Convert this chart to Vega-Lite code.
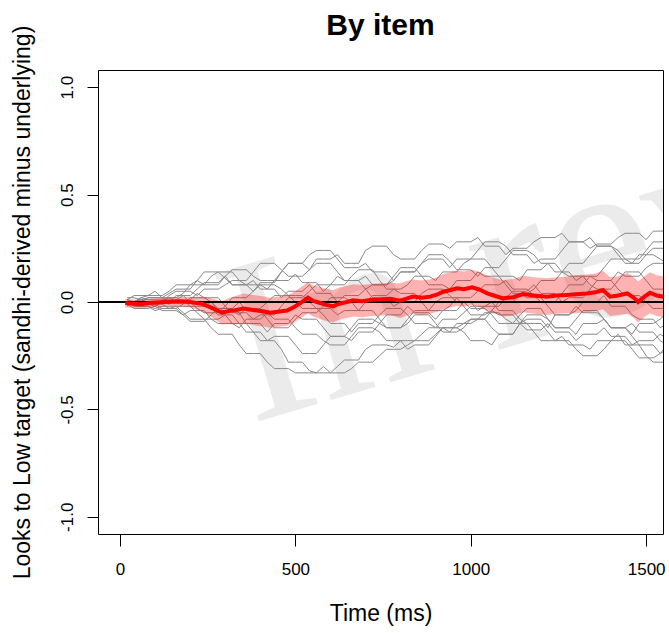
{
  "$schema": "https://vega.github.io/schema/vega-lite/v6.json",
  "width": 565,
  "height": 464,
  "autosize": {"type": "none"},
  "padding": {"left": 98, "top": 70, "right": 6, "bottom": 99},
  "background": "white",
  "title": {"text": "By item", "font": "Liberation Sans", "fontSize": 30, "fontWeight": "bold", "color": "black", "anchor": "middle", "frame": "group", "baseline": "alphabetic", "offset": -40},
  "config": {
    "view": {"stroke": "black", "strokeWidth": 1},
    "axis": {"domain": false, "grid": false, "tickColor": "black", "tickWidth": 1, "labelFont": "Liberation Sans", "labelFontSize": 17, "labelColor": "black", "titleFont": "Liberation Sans", "titleFontSize": 23, "titleFontWeight": "normal", "titleColor": "black"}
  },
  "datasets": {
    "items": [
      {"t":20,"a":0,"b":0,"c":0,"d":0.01,"e":0,"f":-0.01,"g":0,"h":0,"i":0.02,"j":-0.02,"k":0,"l":0.01,"m":-0.01,"n":0},
      {"t":60,"a":0.02,"b":-0.02,"c":0,"d":0.03,"e":-0.01,"f":-0.03,"g":0.01,"h":-0.01,"i":0.01,"j":0,"k":0.02,"l":0,"m":0,"n":-0.02},
      {"t":100,"a":0.03,"b":-0.03,"c":-0.01,"d":0.05,"e":0,"f":-0.02,"g":0.02,"h":-0.02,"i":0,"j":-0.01,"k":0.01,"l":-0.02,"m":0.02,"n":-0.04},
      {"t":140,"a":0.05,"b":-0.02,"c":-0.03,"d":0.02,"e":0.02,"f":-0.04,"g":0,"h":0,"i":0.03,"j":-0.03,"k":-0.01,"l":0.01,"m":0.04,"n":-0.03},
      {"t":180,"a":0.08,"b":-0.05,"c":-0.02,"d":0.04,"e":0,"f":-0.06,"g":0.03,"h":0.01,"i":0.05,"j":-0.01,"k":0.01,"l":0.03,"m":0.06,"n":-0.06},
      {"t":220,"a":0.10,"b":-0.08,"c":-0.05,"d":0.08,"e":-0.03,"f":-0.04,"g":0.06,"h":-0.02,"i":0.03,"j":0.02,"k":0.04,"l":0,"m":0.10,"n":-0.09},
      {"t":260,"a":0.08,"b":-0.12,"c":-0.08,"d":0.12,"e":-0.05,"f":-0.08,"g":0.09,"h":0,"i":0.06,"j":0,"k":0.02,"l":-0.03,"m":0.14,"n":-0.06},
      {"t":300,"a":0.12,"b":-0.15,"c":-0.06,"d":0.14,"e":-0.02,"f":-0.10,"g":0.12,"h":-0.04,"i":0.08,"j":-0.03,"k":-0.02,"l":-0.06,"m":0.11,"n":-0.03},
      {"t":340,"a":0.15,"b":-0.20,"c":-0.10,"d":0.10,"e":0.02,"f":-0.12,"g":0.08,"h":-0.06,"i":0.10,"j":-0.05,"k":-0.05,"l":-0.10,"m":0.08,"n":0},
      {"t":380,"a":0.12,"b":-0.24,"c":-0.14,"d":0.08,"e":0.05,"f":-0.08,"g":0.05,"h":-0.03,"i":0.14,"j":-0.10,"k":-0.08,"l":-0.14,"m":0.10,"n":-0.04},
      {"t":420,"a":0.10,"b":-0.28,"c":-0.18,"d":0.06,"e":0.08,"f":-0.05,"g":0.09,"h":0,"i":0.18,"j":-0.14,"k":-0.06,"l":-0.18,"m":0.06,"n":-0.08},
      {"t":460,"a":0.14,"b":-0.31,"c":-0.22,"d":0.10,"e":0.06,"f":-0.08,"g":0.14,"h":0.03,"i":0.15,"j":-0.10,"k":-0.02,"l":-0.16,"m":0.02,"n":-0.12},
      {"t":500,"a":0.18,"b":-0.33,"c":-0.28,"d":0.13,"e":0.03,"f":-0.12,"g":0.18,"h":0,"i":0.12,"j":-0.06,"k":0.02,"l":-0.20,"m":0.05,"n":-0.08},
      {"t":540,"a":0.15,"b":-0.33,"c":-0.32,"d":0.09,"e":0,"f":-0.15,"g":0.22,"h":-0.03,"i":0.15,"j":-0.08,"k":0.05,"l":-0.24,"m":0.08,"n":-0.05},
      {"t":580,"a":0.20,"b":-0.30,"c":-0.33,"d":0.05,"e":-0.03,"f":-0.18,"g":0.24,"h":-0.06,"i":0.18,"j":-0.12,"k":0.08,"l":-0.20,"m":0.04,"n":-0.02},
      {"t":620,"a":0.22,"b":-0.33,"c":-0.30,"d":0.08,"e":-0.06,"f":-0.20,"g":0.20,"h":-0.10,"i":0.14,"j":-0.16,"k":0.12,"l":-0.16,"m":0,"n":0.02},
      {"t":660,"a":0.18,"b":-0.31,"c":-0.27,"d":0.12,"e":-0.04,"f":-0.16,"g":0.16,"h":-0.14,"i":0.10,"j":-0.12,"k":0.10,"l":-0.18,"m":0.03,"n":0},
      {"t":700,"a":0.24,"b":-0.28,"c":-0.22,"d":0.15,"e":0,"f":-0.12,"g":0.18,"h":-0.10,"i":0.12,"j":-0.08,"k":0.06,"l":-0.14,"m":0.06,"n":-0.04},
      {"t":740,"a":0.26,"b":-0.25,"c":-0.20,"d":0.10,"e":0.03,"f":-0.14,"g":0.14,"h":-0.06,"i":0.08,"j":-0.10,"k":0.08,"l":-0.10,"m":0.02,"n":-0.08},
      {"t":780,"a":0.22,"b":-0.22,"c":-0.21,"d":0.06,"e":0.06,"f":-0.18,"g":0.10,"h":-0.03,"i":0.10,"j":-0.06,"k":0.12,"l":-0.12,"m":-0.02,"n":-0.12},
      {"t":820,"a":0.20,"b":-0.20,"c":-0.18,"d":0.08,"e":0.04,"f":-0.22,"g":0.14,"h":-0.06,"i":0.14,"j":-0.02,"k":0.16,"l":-0.08,"m":0,"n":-0.10},
      {"t":860,"a":0.24,"b":-0.18,"c":-0.15,"d":0.12,"e":0,"f":-0.20,"g":0.18,"h":-0.10,"i":0.18,"j":-0.05,"k":0.12,"l":-0.04,"m":0.04,"n":-0.06},
      {"t":900,"a":0.27,"b":-0.15,"c":-0.12,"d":0.10,"e":-0.04,"f":-0.16,"g":0.22,"h":-0.12,"i":0.20,"j":-0.08,"k":0.08,"l":0,"m":0.06,"n":-0.10},
      {"t":940,"a":0.25,"b":-0.12,"c":-0.14,"d":0.14,"e":-0.02,"f":-0.12,"g":0.19,"h":-0.08,"i":0.16,"j":-0.04,"k":0.06,"l":0.02,"m":0.03,"n":-0.14},
      {"t":980,"a":0.28,"b":-0.10,"c":-0.10,"d":0.18,"e":0.02,"f":-0.14,"g":0.15,"h":-0.05,"i":0.20,"j":0,"k":0.10,"l":-0.02,"m":0,"n":-0.12},
      {"t":1020,"a":0.30,"b":-0.08,"c":-0.08,"d":0.20,"e":0.05,"f":-0.18,"g":0.12,"h":-0.02,"i":0.24,"j":-0.03,"k":0.14,"l":-0.06,"m":-0.04,"n":-0.08},
      {"t":1060,"a":0.26,"b":-0.12,"c":-0.05,"d":0.16,"e":0.08,"f":-0.20,"g":0.16,"h":0,"i":0.28,"j":-0.06,"k":0.12,"l":-0.04,"m":-0.02,"n":-0.04},
      {"t":1100,"a":0.22,"b":-0.15,"c":-0.08,"d":0.12,"e":0.10,"f":-0.15,"g":0.20,"h":-0.04,"i":0.26,"j":-0.10,"k":0.08,"l":0,"m":0.02,"n":-0.06},
      {"t":1140,"a":0.25,"b":-0.10,"c":-0.10,"d":0.10,"e":0.06,"f":-0.10,"g":0.24,"h":-0.08,"i":0.22,"j":-0.06,"k":0.04,"l":0.04,"m":0.05,"n":-0.10},
      {"t":1180,"a":0.28,"b":-0.06,"c":-0.14,"d":0.15,"e":0.03,"f":-0.08,"g":0.22,"h":-0.10,"i":0.18,"j":-0.03,"k":0.06,"l":0.02,"m":0.08,"n":-0.13},
      {"t":1220,"a":0.30,"b":-0.08,"c":-0.18,"d":0.18,"e":0,"f":-0.12,"g":0.18,"h":-0.14,"i":0.20,"j":-0.08,"k":0.10,"l":-0.02,"m":0.04,"n":-0.10},
      {"t":1260,"a":0.32,"b":-0.12,"c":-0.16,"d":0.14,"e":0.04,"f":-0.06,"g":0.14,"h":-0.18,"i":0.24,"j":-0.12,"k":0.14,"l":-0.06,"m":0,"n":-0.14},
      {"t":1300,"a":0.28,"b":-0.15,"c":-0.20,"d":0.10,"e":0.08,"f":-0.02,"g":0.18,"h":-0.22,"i":0.28,"j":-0.08,"k":0.12,"l":-0.04,"m":0.02,"n":-0.18},
      {"t":1340,"a":0.25,"b":-0.10,"c":-0.22,"d":0.12,"e":0.12,"f":-0.05,"g":0.22,"h":-0.25,"i":0.30,"j":-0.04,"k":0.08,"l":0,"m":0.06,"n":-0.15},
      {"t":1380,"a":0.27,"b":-0.08,"c":-0.18,"d":0.16,"e":0.10,"f":-0.08,"g":0.26,"h":-0.22,"i":0.26,"j":-0.08,"k":0.06,"l":0.03,"m":0.10,"n":-0.12},
      {"t":1420,"a":0.30,"b":-0.12,"c":-0.15,"d":0.20,"e":0.06,"f":-0.12,"g":0.24,"h":-0.18,"i":0.22,"j":-0.12,"k":0.10,"l":-0.02,"m":0.14,"n":-0.16},
      {"t":1460,"a":0.32,"b":-0.15,"c":-0.20,"d":0.18,"e":0.03,"f":-0.10,"g":0.20,"h":-0.22,"i":0.18,"j":-0.16,"k":0.14,"l":-0.06,"m":0.12,"n":-0.20},
      {"t":1500,"a":0.29,"b":-0.10,"c":-0.25,"d":0.22,"e":0,"f":-0.14,"g":0.24,"h":-0.26,"i":0.22,"j":-0.20,"k":0.10,"l":-0.08,"m":0.16,"n":-0.18},
      {"t":1540,"a":0.33,"b":-0.08,"c":-0.28,"d":0.20,"e":-0.03,"f":-0.18,"g":0.28,"h":-0.24,"i":0.25,"j":-0.24,"k":0.06,"l":-0.12,"m":0.18,"n":-0.15},
      {"t":1580,"a":0.30,"b":-0.05,"c":-0.30,"d":0.18,"e":-0.02,"f":-0.20,"g":0.25,"h":-0.20,"i":0.28,"j":-0.22,"k":0.08,"l":-0.10,"m":0.20,"n":-0.17},
      {"t":40,"a":0,"b":-0.02,"c":0,"d":0.03,"e":0,"f":-0.03,"g":0,"h":-0.01,"i":0.02,"j":0,"k":0,"l":0,"m":-0.01,"n":-0.02},
      {"t":80,"a":0.03,"b":-0.02,"c":-0.01,"d":0.03,"e":0,"f":-0.03,"g":0.02,"h":-0.01,"i":0,"j":0,"k":0.01,"l":0,"m":0.02,"n":-0.02},
      {"t":120,"a":0.03,"b":-0.02,"c":-0.01,"d":0.02,"e":0,"f":-0.04,"g":0.02,"h":0,"i":0,"j":-0.03,"k":0.01,"l":0.01,"m":0.02,"n":-0.03},
      {"t":160,"a":0.08,"b":-0.02,"c":-0.02,"d":0.02,"e":0,"f":-0.04,"g":0.03,"h":0,"i":0.05,"j":-0.03,"k":0.01,"l":0.01,"m":0.06,"n":-0.03},
      {"t":200,"a":0.08,"b":-0.08,"c":-0.02,"d":0.08,"e":0,"f":-0.04,"g":0.03,"h":-0.02,"i":0.05,"j":0.02,"k":0.01,"l":0,"m":0.06,"n":-0.09},
      {"t":240,"a":0.08,"b":-0.08,"c":-0.08,"d":0.08,"e":-0.05,"f":-0.04,"g":0.09,"h":-0.02,"i":0.06,"j":0.02,"k":0.02,"l":0,"m":0.14,"n":-0.09},
      {"t":280,"a":0.08,"b":-0.15,"c":-0.08,"d":0.14,"e":-0.05,"f":-0.10,"g":0.09,"h":-0.04,"i":0.06,"j":-0.03,"k":0.02,"l":-0.06,"m":0.14,"n":-0.03},
      {"t":320,"a":0.15,"b":-0.15,"c":-0.10,"d":0.14,"e":0.02,"f":-0.10,"g":0.08,"h":-0.04,"i":0.10,"j":-0.03,"k":-0.05,"l":-0.06,"m":0.08,"n":-0.03},
      {"t":360,"a":0.15,"b":-0.24,"c":-0.10,"d":0.08,"e":0.02,"f":-0.08,"g":0.08,"h":-0.03,"i":0.10,"j":-0.10,"k":-0.05,"l":-0.14,"m":0.08,"n":-0.04},
      {"t":400,"a":0.10,"b":-0.24,"c":-0.18,"d":0.08,"e":0.08,"f":-0.08,"g":0.09,"h":-0.03,"i":0.18,"j":-0.10,"k":-0.06,"l":-0.14,"m":0.06,"n":-0.04},
      {"t":440,"a":0.10,"b":-0.31,"c":-0.18,"d":0.10,"e":0.08,"f":-0.08,"g":0.09,"h":0.03,"i":0.18,"j":-0.10,"k":-0.06,"l":-0.16,"m":0.06,"n":-0.12},
      {"t":480,"a":0.18,"b":-0.31,"c":-0.28,"d":0.10,"e":0.03,"f":-0.08,"g":0.18,"h":0.03,"i":0.12,"j":-0.10,"k":0.02,"l":-0.16,"m":0.05,"n":-0.12},
      {"t":520,"a":0.18,"b":-0.33,"c":-0.28,"d":0.09,"e":0.03,"f":-0.15,"g":0.18,"h":-0.03,"i":0.12,"j":-0.08,"k":0.02,"l":-0.24,"m":0.05,"n":-0.05},
      {"t":560,"a":0.20,"b":-0.33,"c":-0.33,"d":0.09,"e":-0.03,"f":-0.15,"g":0.24,"h":-0.03,"i":0.18,"j":-0.08,"k":0.08,"l":-0.24,"m":0.04,"n":-0.05},
      {"t":600,"a":0.20,"b":-0.33,"c":-0.33,"d":0.08,"e":-0.03,"f":-0.20,"g":0.24,"h":-0.10,"i":0.18,"j":-0.16,"k":0.08,"l":-0.16,"m":0.04,"n":0.02},
      {"t":640,"a":0.18,"b":-0.33,"c":-0.27,"d":0.08,"e":-0.04,"f":-0.20,"g":0.16,"h":-0.10,"i":0.10,"j":-0.16,"k":0.10,"l":-0.16,"m":0.03,"n":0.02},
      {"t":680,"a":0.18,"b":-0.28,"c":-0.27,"d":0.15,"e":-0.04,"f":-0.12,"g":0.16,"h":-0.10,"i":0.10,"j":-0.08,"k":0.10,"l":-0.14,"m":0.03,"n":-0.04},
      {"t":720,"a":0.26,"b":-0.28,"c":-0.20,"d":0.15,"e":0.03,"f":-0.12,"g":0.14,"h":-0.10,"i":0.08,"j":-0.08,"k":0.08,"l":-0.14,"m":0.02,"n":-0.04},
      {"t":760,"a":0.26,"b":-0.22,"c":-0.20,"d":0.06,"e":0.03,"f":-0.18,"g":0.14,"h":-0.03,"i":0.08,"j":-0.06,"k":0.08,"l":-0.12,"m":0.02,"n":-0.12},
      {"t":800,"a":0.20,"b":-0.22,"c":-0.18,"d":0.06,"e":0.04,"f":-0.18,"g":0.14,"h":-0.03,"i":0.14,"j":-0.06,"k":0.16,"l":-0.12,"m":0,"n":-0.12},
      {"t":840,"a":0.20,"b":-0.18,"c":-0.18,"d":0.12,"e":0.04,"f":-0.20,"g":0.14,"h":-0.10,"i":0.14,"j":-0.05,"k":0.16,"l":-0.04,"m":0,"n":-0.06},
      {"t":880,"a":0.27,"b":-0.18,"c":-0.12,"d":0.12,"e":-0.04,"f":-0.20,"g":0.22,"h":-0.10,"i":0.20,"j":-0.05,"k":0.08,"l":-0.04,"m":0.06,"n":-0.06},
      {"t":920,"a":0.27,"b":-0.12,"c":-0.12,"d":0.14,"e":-0.04,"f":-0.12,"g":0.22,"h":-0.08,"i":0.20,"j":-0.04,"k":0.08,"l":0.02,"m":0.06,"n":-0.14},
      {"t":960,"a":0.28,"b":-0.12,"c":-0.10,"d":0.14,"e":0.02,"f":-0.12,"g":0.15,"h":-0.08,"i":0.20,"j":-0.04,"k":0.10,"l":0.02,"m":0,"n":-0.14},
      {"t":1000,"a":0.28,"b":-0.08,"c":-0.10,"d":0.20,"e":0.02,"f":-0.18,"g":0.15,"h":-0.02,"i":0.20,"j":-0.03,"k":0.10,"l":-0.06,"m":0,"n":-0.08},
      {"t":1040,"a":0.26,"b":-0.08,"c":-0.05,"d":0.20,"e":0.08,"f":-0.18,"g":0.16,"h":-0.02,"i":0.28,"j":-0.03,"k":0.12,"l":-0.06,"m":-0.02,"n":-0.08},
      {"t":1080,"a":0.26,"b":-0.15,"c":-0.05,"d":0.12,"e":0.08,"f":-0.15,"g":0.16,"h":-0.04,"i":0.28,"j":-0.10,"k":0.12,"l":0,"m":-0.02,"n":-0.06},
      {"t":1120,"a":0.25,"b":-0.15,"c":-0.10,"d":0.12,"e":0.06,"f":-0.15,"g":0.24,"h":-0.04,"i":0.22,"j":-0.10,"k":0.04,"l":0,"m":0.05,"n":-0.06},
      {"t":1160,"a":0.25,"b":-0.06,"c":-0.10,"d":0.15,"e":0.06,"f":-0.08,"g":0.24,"h":-0.10,"i":0.22,"j":-0.03,"k":0.04,"l":0.02,"m":0.05,"n":-0.13},
      {"t":1200,"a":0.30,"b":-0.06,"c":-0.18,"d":0.15,"e":0,"f":-0.08,"g":0.18,"h":-0.10,"i":0.20,"j":-0.03,"k":0.10,"l":0.02,"m":0.04,"n":-0.13},
      {"t":1240,"a":0.30,"b":-0.12,"c":-0.18,"d":0.14,"e":0,"f":-0.06,"g":0.18,"h":-0.18,"i":0.20,"j":-0.12,"k":0.10,"l":-0.06,"m":0.04,"n":-0.14},
      {"t":1280,"a":0.28,"b":-0.12,"c":-0.20,"d":0.14,"e":0.08,"f":-0.06,"g":0.18,"h":-0.18,"i":0.28,"j":-0.12,"k":0.12,"l":-0.06,"m":0.02,"n":-0.14},
      {"t":1320,"a":0.28,"b":-0.10,"c":-0.20,"d":0.12,"e":0.08,"f":-0.05,"g":0.18,"h":-0.25,"i":0.28,"j":-0.04,"k":0.12,"l":0,"m":0.02,"n":-0.15},
      {"t":1360,"a":0.27,"b":-0.10,"c":-0.18,"d":0.12,"e":0.10,"f":-0.05,"g":0.26,"h":-0.25,"i":0.26,"j":-0.04,"k":0.06,"l":0,"m":0.10,"n":-0.15},
      {"t":1400,"a":0.27,"b":-0.12,"c":-0.18,"d":0.20,"e":0.10,"f":-0.12,"g":0.26,"h":-0.18,"i":0.26,"j":-0.12,"k":0.06,"l":-0.02,"m":0.10,"n":-0.16},
      {"t":1440,"a":0.32,"b":-0.12,"c":-0.20,"d":0.20,"e":0.03,"f":-0.12,"g":0.20,"h":-0.18,"i":0.18,"j":-0.12,"k":0.14,"l":-0.02,"m":0.12,"n":-0.16},
      {"t":1480,"a":0.32,"b":-0.10,"c":-0.20,"d":0.22,"e":0.03,"f":-0.14,"g":0.20,"h":-0.26,"i":0.18,"j":-0.20,"k":0.14,"l":-0.08,"m":0.12,"n":-0.18},
      {"t":1520,"a":0.33,"b":-0.10,"c":-0.28,"d":0.22,"e":-0.03,"f":-0.14,"g":0.28,"h":-0.26,"i":0.25,"j":-0.20,"k":0.06,"l":-0.08,"m":0.18,"n":-0.18},
      {"t":1560,"a":0.33,"b":-0.05,"c":-0.28,"d":0.18,"e":-0.03,"f":-0.20,"g":0.28,"h":-0.20,"i":0.25,"j":-0.22,"k":0.06,"l":-0.10,"m":0.18,"n":-0.17}
    ],
    "mean": [
      {"t":15,"v":-0.005,"lo":-0.025,"hi":0.015},
      {"t":40,"v":-0.008,"lo":-0.028,"hi":0.012},
      {"t":60,"v":-0.01,"lo":-0.03,"hi":0.01},
      {"t":90,"v":-0.004,"lo":-0.024,"hi":0.016},
      {"t":130,"v":0.0,"lo":-0.02,"hi":0.02},
      {"t":170,"v":0.002,"lo":-0.02,"hi":0.024},
      {"t":200,"v":0.0,"lo":-0.025,"hi":0.025},
      {"t":237,"v":-0.01,"lo":-0.045,"hi":0.025},
      {"t":265,"v":-0.03,"lo":-0.075,"hi":0.015},
      {"t":291,"v":-0.05,"lo":-0.105,"hi":0.005},
      {"t":310,"v":-0.042,"lo":-0.102,"hi":0.018},
      {"t":322,"v":-0.04,"lo":-0.105,"hi":0.025},
      {"t":351,"v":-0.03,"lo":-0.1,"hi":0.04},
      {"t":375,"v":-0.036,"lo":-0.106,"hi":0.034},
      {"t":391,"v":-0.04,"lo":-0.11,"hi":0.03},
      {"t":410,"v":-0.044,"lo":-0.114,"hi":0.026},
      {"t":428,"v":-0.05,"lo":-0.12,"hi":0.02},
      {"t":450,"v":-0.045,"lo":-0.115,"hi":0.025},
      {"t":476,"v":-0.04,"lo":-0.11,"hi":0.03},
      {"t":495,"v":-0.025,"lo":-0.095,"hi":0.045},
      {"t":513,"v":-0.006,"lo":-0.078,"hi":0.066},
      {"t":536,"v":0.02,"lo":-0.052,"hi":0.092},
      {"t":550,"v":0.005,"lo":-0.067,"hi":0.077},
      {"t":562,"v":0.0,"lo":-0.075,"hi":0.075},
      {"t":585,"v":-0.012,"lo":-0.087,"hi":0.063},
      {"t":607,"v":-0.02,"lo":-0.095,"hi":0.055},
      {"t":625,"v":-0.008,"lo":-0.083,"hi":0.067},
      {"t":647,"v":0.0,"lo":-0.075,"hi":0.075},
      {"t":665,"v":0.008,"lo":-0.067,"hi":0.083},
      {"t":690,"v":0.004,"lo":-0.071,"hi":0.079},
      {"t":720,"v":0.01,"lo":-0.065,"hi":0.085},
      {"t":745,"v":0.012,"lo":-0.063,"hi":0.087},
      {"t":770,"v":0.015,"lo":-0.06,"hi":0.09},
      {"t":798,"v":0.006,"lo":-0.074,"hi":0.086},
      {"t":815,"v":0.015,"lo":-0.065,"hi":0.095},
      {"t":835,"v":0.025,"lo":-0.055,"hi":0.105},
      {"t":860,"v":0.02,"lo":-0.06,"hi":0.1},
      {"t":884,"v":0.025,"lo":-0.055,"hi":0.105},
      {"t":905,"v":0.035,"lo":-0.045,"hi":0.115},
      {"t":921,"v":0.048,"lo":-0.034,"hi":0.13},
      {"t":940,"v":0.055,"lo":-0.027,"hi":0.137},
      {"t":961,"v":0.064,"lo":-0.018,"hi":0.146},
      {"t":980,"v":0.06,"lo":-0.022,"hi":0.142},
      {"t":1004,"v":0.068,"lo":-0.014,"hi":0.15},
      {"t":1025,"v":0.058,"lo":-0.024,"hi":0.14},
      {"t":1047,"v":0.04,"lo":-0.042,"hi":0.122},
      {"t":1070,"v":0.028,"lo":-0.054,"hi":0.11},
      {"t":1092,"v":0.017,"lo":-0.068,"hi":0.102},
      {"t":1121,"v":0.022,"lo":-0.063,"hi":0.107},
      {"t":1149,"v":0.037,"lo":-0.048,"hi":0.122},
      {"t":1180,"v":0.03,"lo":-0.055,"hi":0.115},
      {"t":1217,"v":0.025,"lo":-0.06,"hi":0.11},
      {"t":1245,"v":0.03,"lo":-0.055,"hi":0.115},
      {"t":1274,"v":0.033,"lo":-0.052,"hi":0.118},
      {"t":1300,"v":0.036,"lo":-0.052,"hi":0.124},
      {"t":1331,"v":0.04,"lo":-0.048,"hi":0.128},
      {"t":1355,"v":0.045,"lo":-0.043,"hi":0.133},
      {"t":1377,"v":0.056,"lo":-0.034,"hi":0.146},
      {"t":1397,"v":0.025,"lo":-0.065,"hi":0.115},
      {"t":1420,"v":0.03,"lo":-0.06,"hi":0.12},
      {"t":1446,"v":0.04,"lo":-0.055,"hi":0.135},
      {"t":1465,"v":0.02,"lo":-0.075,"hi":0.115},
      {"t":1477,"v":0.0,"lo":-0.095,"hi":0.095},
      {"t":1495,"v":0.025,"lo":-0.07,"hi":0.12},
      {"t":1511,"v":0.043,"lo":-0.052,"hi":0.138},
      {"t":1530,"v":0.03,"lo":-0.065,"hi":0.125},
      {"t":1548,"v":0.025,"lo":-0.07,"hi":0.12},
      {"t":1560,"v":0.03,"lo":-0.065,"hi":0.125}
    ]
  },
  "encoding": {
    "x": {"field": "t", "type": "quantitative", "scale": {"domain": [-62.7, 1548], "nice": false, "zero": false},
      "axis": {"values": [0, 500, 1000, 1500], "format": "d", "title": "Time (ms)", "tickSize": 12, "labelPadding": 15, "titlePadding": 25}},
    "y": {"field": "v", "type": "quantitative", "scale": {"domain": [-1.08, 1.08], "nice": false, "zero": false},
      "axis": {"values": [-1, -0.5, 0, 0.5, 1], "title": "Looks to Low target (sandhi-derived minus underlying)", "tickSize": 11, "labelPadding": 15, "titlePadding": 24, "labelAngle": -90, "labelAlign": "center", "labelBaseline": "alphabetic",
        "labelExpr": "datum.value < 0 ? '-' + format(-datum.value, '.1f') : format(datum.value, '.1f')"}}
  },
  "layer": [
    {
      "data": {"values": [{"t": 373, "v": -0.567, "label": "In review"}]},
      "mark": {"type": "text", "font": "Liberation Serif", "fontSize": 235, "color": "#ebebeb", "angle": 343.4, "align": "left", "baseline": "alphabetic", "clip": true},
      "encoding": {"text": {"field": "label"}}
    },
    {
      "data": {"name": "items"},
      "transform": [{"fold": ["a","b","c","d","e","f","g","h","i","j","k","l","m","n"], "as": ["item", "v"]}],
      "mark": {"type": "line", "color": "#8a8a8a", "strokeWidth": 1, "clip": true},
      "encoding": {"detail": {"field": "item", "type": "nominal"}}
    },
    {
      "data": {"name": "mean"},
      "mark": {"type": "area", "color": "#ff0000", "opacity": 0.3, "clip": true},
      "encoding": {"y": {"field": "lo", "type": "quantitative", "title": "Looks to Low target (sandhi-derived minus underlying)"}, "y2": {"field": "hi"}}
    },
    {
      "data": {"values": [{"t0": -62.7, "t1": 1548, "v": 0}]},
      "mark": {"type": "rule", "color": "black", "strokeWidth": 2},
      "encoding": {"x": {"field": "t0", "type": "quantitative", "title": "Time (ms)"}, "x2": {"field": "t1"}}
    },
    {
      "data": {"name": "mean"},
      "mark": {"type": "line", "color": "#ff0000", "strokeWidth": 4, "clip": true},
      "encoding": {}
    }
  ]
}
